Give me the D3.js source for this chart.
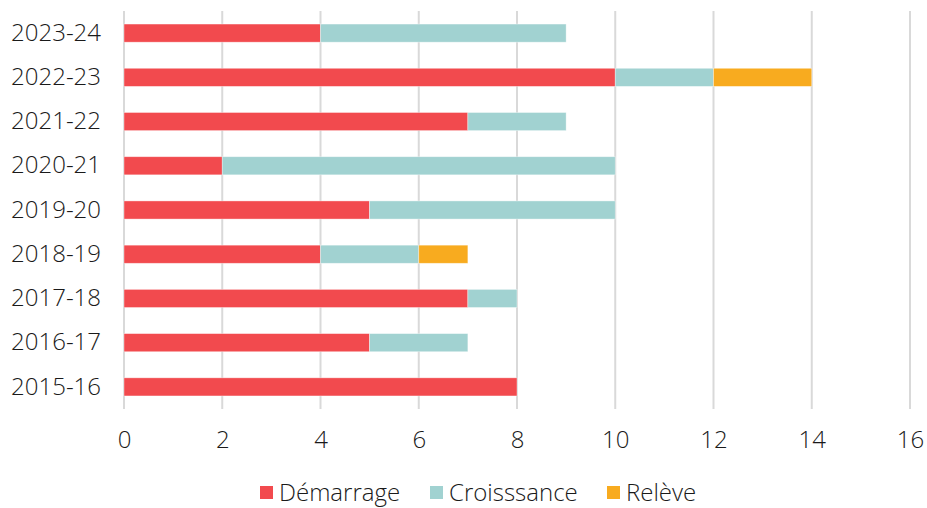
<!DOCTYPE html>
<html>
<head>
<meta charset="utf-8">
<script src="https://cdn.jsdelivr.net/npm/d3@7"></script>
<style>
  body { margin: 0; background: #fff; }
  svg text { font-family: "Open Sans", Lato, sans-serif; font-weight: 300; fill: #1a1a1a; }
</style>
</head>
<body>
<svg width="927" height="508"></svg>
<script>
var svg = d3.select('svg');

// data
var years = ['2023-24', '2022-23', '2021-22', '2020-21', '2019-20', '2018-19', '2017-18', '2016-17', '2015-16'];
var demarrage = [4, 10, 7, 2, 5, 4, 7, 5, 8];
var croissance = [5, 2, 2, 8, 5, 2, 1, 2, 0];
var releve = [0, 2, 0, 0, 0, 1, 0, 0, 0];
var seriesNames = ['Démarrage', 'Croisssance', 'Relève'];
var colors = ['#f24a4e', '#a1d2d1', '#f8ab1f'];
var xTicks = [0, 2, 4, 6, 8, 10, 12, 14, 16];

var rows = years.map(function (y, i) {
    return { year: y, 'Démarrage': demarrage[i], 'Croisssance': croissance[i], 'Relève': releve[i] };
});
var stacked = d3.stack().keys(seriesNames)(rows);

var x = d3.scaleLinear().domain([0, 16]).range([124, 910]);
var y = d3.scaleBand().domain(years).range([11, 409]).paddingInner(0.59).paddingOuter(0.295);

// grid
svg.append('g').selectAll('line')
    .data(xTicks)
    .enter()
    .append('line')
    .attr('x1', function (d) { return x(d); })
    .attr('x2', function (d) { return x(d); })
    .attr('y1', 11)
    .attr('y2', 409)
    .attr('stroke', '#d9d9d9')
    .attr('stroke-width', 2);

// bars
svg.append('g').selectAll('g')
    .data(stacked)
    .enter()
    .append('g')
    .attr('fill', function (d, i) { return colors[i]; })
    .selectAll('rect')
    .data(function (d) { return d; })
    .enter()
    .filter(function (d) { return d[1] > d[0]; })
    .append('rect')
    .attr('x', function (d) { return x(d[0]); })
    .attr('width', function (d) { return x(d[1]) - x(d[0]); })
    .attr('y', function (d) { return y(d.data.year); })
    .attr('height', y.bandwidth())
    .attr('stroke', '#fff')
    .attr('stroke-opacity', 0.5)
    .attr('stroke-width', 0.75);

// x axis labels
var xAxis = d3.axisBottom(x).tickValues(xTicks).tickSize(0).tickPadding(0);
var gx = svg.append('g').attr('transform', 'translate(0,431)').call(xAxis);
gx.select('.domain').remove();
gx.selectAll('text').style('font-size', '24px').style('font-family', null).attr('fill', '#1a1a1a');

// y axis labels
var yAxis = d3.axisLeft(y).tickSize(0).tickPadding(0);
var gy = svg.append('g').attr('transform', 'translate(101,0)').call(yAxis);
gy.select('.domain').remove();
gy.selectAll('text').style('font-size', '24px').style('font-family', null).attr('fill', '#1a1a1a');

// legend
var legendX = [260, 430, 607];
var legend = svg.append('g').selectAll('g')
    .data(seriesNames)
    .enter()
    .append('g')
    .attr('transform', function (d, i) { return 'translate(' + legendX[i] + ',486)'; });
legend.append('rect')
    .attr('width', 13)
    .attr('height', 13)
    .attr('fill', function (d, i) { return colors[i]; });
legend.append('text')
    .attr('x', 19)
    .attr('y', 7)
    .attr('dy', '0.35em')
    .style('font-size', '24px')
    .text(function (d) { return d; });
</script>
</body>
</html>
